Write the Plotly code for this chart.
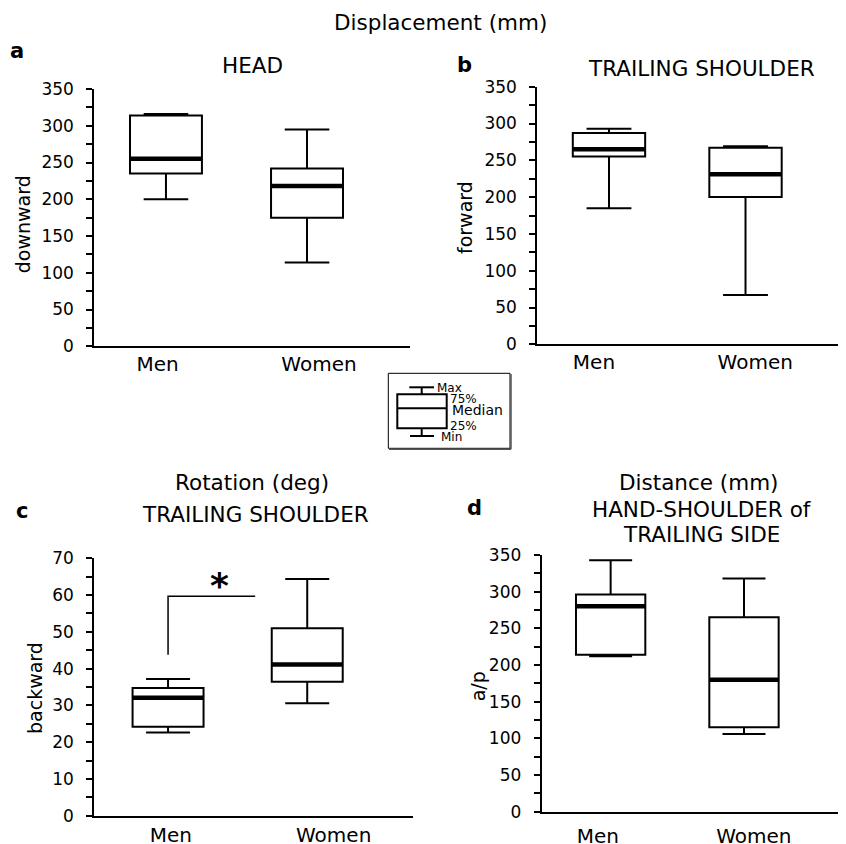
import plotly.graph_objects as go

# page body has an 8px default margin; the figure is sized to fill the rest
OFF = 8
W, H = 846 - OFF, 844 - OFF
FONT = "DejaVu Sans"

categories = ["Men", "Women"]

# Panel a: HEAD, downward displacement (mm)
head_min = [200, 114]
head_q1 = [235, 175]
head_med = [255, 218]
head_q3 = [314, 242]
head_max = [316, 295]

# Panel b: TRAILING SHOULDER, forward displacement (mm)
fwd_min = [185, 67]
fwd_q1 = [255, 200]
fwd_med = [265, 231]
fwd_q3 = [287, 267]
fwd_max = [293, 269]

# Panel c: TRAILING SHOULDER, backward rotation (deg)
rot_min = [22.6, 30.6]
rot_q1 = [24.2, 36.4]
rot_med = [32.1, 41.1]
rot_q3 = [34.7, 51.0]
rot_max = [37.2, 64.4]

# Panel d: HAND-SHOULDER of TRAILING SIDE, a/p distance (mm)
ap_min = [212, 106]
ap_q1 = [214, 115]
ap_med = [280, 180]
ap_q3 = [296, 265]
ap_max = [343, 318]

# significance bracket in panel c (data units)
sig_bracket_y = [43.8, 59.7, 59.7]
sig_star_y = 62.6


def px(x):
    return (x - OFF) / W


def py(y):
    return 1 - (y - OFF) / H


panels = [
    dict(id="", stats=(head_min, head_q1, head_med, head_q3, head_max),
         xdom=(94.3, 410), ydom=(89, 346.3), xr=(-0.508, 1.73), bw=0.51,
         lab=(-0.06, 1.085), yr=(0, 350), dt=50, mdt=25, lstand=-1),
    dict(id="2", stats=(fwd_min, fwd_q1, fwd_med, fwd_q3, fwd_max),
         xdom=(537.3, 846), ydom=(86.7, 344.3), xr=(-0.525, 1.736), bw=0.53,
         lab=(-0.11, 1.071), yr=(0, 350), dt=50, mdt=25, lstand=-1),
    dict(id="3", stats=(rot_min, rot_q1, rot_med, rot_q3, rot_max),
         xdom=(94.3, 413), ydom=(558.3, 815.7), xr=(-0.53, 1.76), bw=0.51,
         lab=(0.02, 1.19), yr=(0, 70), dt=10, mdt=5, lstand=0),
    dict(id="4", stats=(ap_min, ap_q1, ap_med, ap_q3, ap_max),
         xdom=(541.7, 846), ydom=(555, 811.7), xr=(-0.517, 1.765), bw=0.52,
         lab=(-0.096, 1.074), yr=(0, 350), dt=50, mdt=25, lstand=5),
]

fig = go.Figure()
layout = dict(
    width=W, height=H, margin=dict(l=0, r=0, t=0, b=0, autoexpand=False),
    paper_bgcolor="white", plot_bgcolor="white", showlegend=False,
    font=dict(family=FONT, color="black"),
)

positions = list(range(len(categories)))

for p in panels:
    xa = "x" + p["id"]
    ya = "y" + p["id"]
    mn, q1, md, q3, mx = p["stats"]
    fig.add_trace(go.Box(
        x=positions, q1=q1, median=md, q3=q3, lowerfence=mn, upperfence=mx,
        width=p["bw"], whiskerwidth=0.62, boxpoints=False,
        fillcolor="white", line=dict(color="black", width=2),
        xaxis=xa, yaxis=ya, hoverinfo="skip",
    ))
    mxs, mys = [], []
    for i, m in zip(positions, md):
        mxs += [i - p["bw"] / 2, i + p["bw"] / 2, None]
        mys += [m, m, None]
    fig.add_trace(go.Scatter(
        x=mxs, y=mys, mode="lines", line=dict(color="black", width=4.5),
        xaxis=xa, yaxis=ya, hoverinfo="skip",
    ))
    layout["xaxis" + p["id"]] = dict(
        domain=[px(p["xdom"][0]), min(1, px(p["xdom"][1]))], anchor=ya,
        range=list(p["xr"]), tickvals=list(p["lab"]), ticktext=categories,
        ticks="", showline=True, linewidth=2, linecolor="black",
        showgrid=False, zeroline=False, tickfont=dict(size=20, family=FONT),
        ticklabelstandoff=p["lstand"], automargin=False,
    )
    layout["yaxis" + p["id"]] = dict(
        domain=[py(p["ydom"][1]), py(p["ydom"][0])], anchor=xa,
        range=list(p["yr"]), tick0=0, dtick=p["dt"], ticks="outside",
        ticklen=6, tickwidth=2, tickcolor="black",
        minor=dict(dtick=p["mdt"], ticks="outside", ticklen=6, tickwidth=2,
                   tickcolor="black"),
        showline=True, linewidth=2, linecolor="black", showgrid=False,
        zeroline=False, tickfont=dict(size=17, family=FONT),
        ticklabelstandoff=9, automargin=False,
    )

# significance bracket in panel c
fig.add_trace(go.Scatter(
    x=[0, 0, 0.626], y=sig_bracket_y, mode="lines",
    line=dict(color="black", width=1.5), xaxis="x3", yaxis="y3",
    hoverinfo="skip",
))

annotations = []


def text(x, y, s, size, bold=False, xanchor="center", angle=0):
    annotations.append(dict(
        x=px(x), y=py(y), xref="paper", yref="paper", text=s,
        showarrow=False, xanchor=xanchor, yanchor="middle", textangle=angle,
        font=dict(size=size, family=FONT, color="black",
                  weight="bold" if bold else "normal"),
    ))


text(440, 22.5, "Displacement (mm)", 21.5)
text(16.7, 51, "a", 21, bold=True)
text(252.5, 66, "HEAD", 21.5)
text(464, 65, "b", 21, bold=True)
text(701.7, 69, "TRAILING SHOULDER", 21.5)
text(251.7, 482.5, "Rotation (deg)", 21.5)
text(21.7, 511, "c", 21, bold=True)
text(255.8, 514.5, "TRAILING SHOULDER", 21.5)
text(699, 482.5, "Distance (mm)", 21.5)
text(474, 508, "d", 21, bold=True)
text(701.7, 509, "HAND-SHOULDER of", 21.5)
text(701.7, 534, "TRAILING SIDE", 21.5)

text(23.3, 224, "downward", 19, angle=-90)
text(465, 218, "forward", 19, angle=-90)
text(35, 688, "backward", 19, angle=-90)
text(478.3, 686, "a/p", 19, angle=-90)

# asterisk
annotations.append(dict(
    x=0.37, y=sig_star_y, xref="x3", yref="y3", text="*", showarrow=False,
    xanchor="center", yanchor="middle",
    font=dict(size=36, family=FONT, color="black", weight="bold"),
))

# legend key
text(434.5, 388, "Max", 12, xanchor="left")
text(447.5, 398.7, "75%", 12, xanchor="left")
text(450, 410, "Median", 14, xanchor="left")
text(447.5, 426.2, "25%", 12, xanchor="left")
text(438.5, 437.5, "Min", 12, xanchor="left")

shapes = []


def rect(x0, y0, x1, y1, w=1, color="black"):
    shapes.append(dict(type="rect", xref="paper", yref="paper",
                       x0=px(x0), x1=px(x1), y0=py(y1), y1=py(y0),
                       line=dict(color=color, width=w), fillcolor="rgba(0,0,0,0)"))


def line(x0, y0, x1, y1, w=2, color="black"):
    shapes.append(dict(type="line", xref="paper", yref="paper",
                       x0=px(x0), x1=px(x1), y0=py(y0), y1=py(y1),
                       line=dict(color=color, width=w)))


rect(388.3, 373.3, 510, 448.3, w=1)
line(389, 449.3, 511, 449.3, w=1.5, color="#555555")
line(511, 374, 511, 449.3, w=1.5, color="#555555")
rect(397.3, 394.3, 446.7, 428.3, w=2)
line(397.3, 408.3, 446.7, 408.3, w=2)
line(421.7, 387.3, 421.7, 394.3, w=2)
line(409.3, 387.3, 434, 387.3, w=2)
line(421.7, 428.3, 421.7, 436, w=2)
line(410, 436, 434, 436, w=2)

layout["annotations"] = annotations
layout["shapes"] = shapes
fig.update_layout(**layout)

fig.write_html("out.html")
